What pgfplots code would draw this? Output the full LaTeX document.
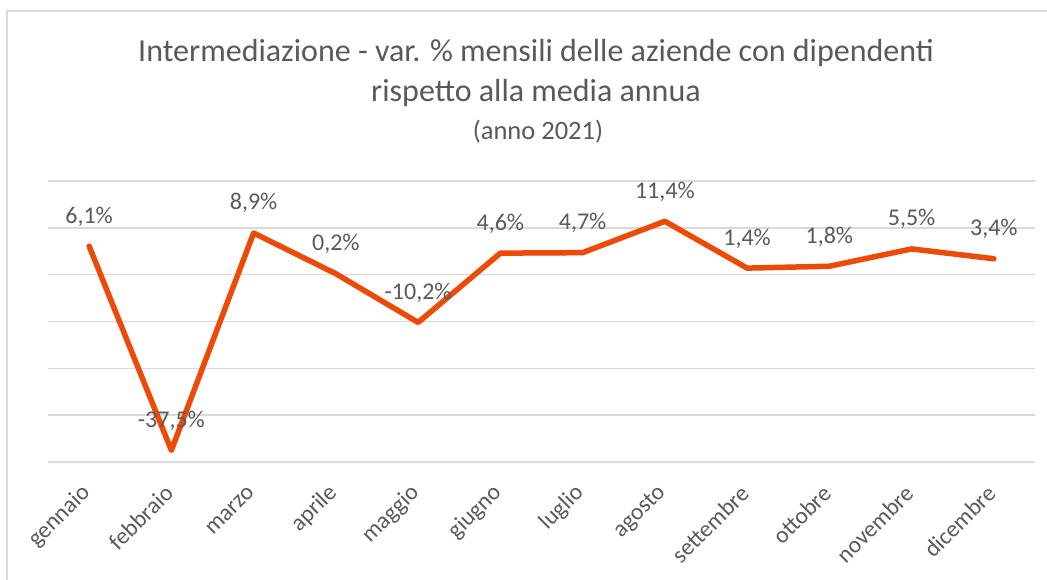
\documentclass[border=0pt]{standalone}
\usepackage{fontspec}
\setmainfont{Carlito}
\usepackage{pgfplots}
\pgfplotsset{compat=1.18}
\definecolor{linea}{RGB}{236,74,6}
\definecolor{testo}{RGB}{89,89,89}
\definecolor{griglia}{RGB}{217,217,217}
\begin{document}
\begin{tikzpicture}
\useasboundingbox (0pt,0pt) rectangle (1047pt,579pt);
% chart frame (right and bottom edges fall outside the image)
\draw[griglia, line width=1.5pt] (7pt,-20pt) -- (7pt,568pt) -- (1080pt,568pt);
% title
\node[testo, font=\fontsize{32}{40}\selectfont, anchor=base] at (536pt,517pt)
  {Intermediazione - var. \% mensili delle aziende con dipendenti};
\node[testo, font=\fontsize{32}{40}\selectfont, anchor=base] at (536pt,477pt)
  {rispetto alla media annua};
\node[testo, font=\fontsize{26.5}{30}\selectfont, anchor=base] at (538pt,439pt)
  {(anno 2021)};
\begin{axis}[
    at={(48pt,117pt)}, anchor=south west,
    scale only axis, width=987pt, height=281pt,
    xmin=-0.5, xmax=11.5, ymin=-40, ymax=20,
    axis line style={draw=none},
    tick style={draw=none},
    ytick={-40,-30,...,20}, yticklabels={},
    ymajorgrids, grid style={griglia, line width=1.5pt},
    xtick={0,...,11},
    xticklabels={gennaio, febbraio, marzo, aprile, maggio, giugno, luglio,
                 agosto, settembre, ottobre, novembre, dicembre},
    xticklabel style={rotate=45, anchor=east, text=testo,
                      font=\fontsize{23.5}{28}\selectfont},
    xticklabel shift=25pt,
    clip=false,
    nodes near coords={\pgfmathprintnumber[fixed, fixed zerofill, precision=1,
                       use comma, assume math mode=true]{\pgfplotspointmeta}\%},
    every node near coord/.append style={text=testo, anchor=base, yshift=23pt,
                      font=\fontsize{24}{28}\selectfont},
]
\addplot[color=linea, line width=5.5pt, line join=round, line cap=round, mark=none]
  coordinates {(0,6.1) (1,-37.5) (2,8.9) (3,0.2) (4,-10.2) (5,4.6) (6,4.7)
               (7,11.4) (8,1.4) (9,1.8) (10,5.5) (11,3.4)};
\end{axis}
\end{tikzpicture}
\end{document}
